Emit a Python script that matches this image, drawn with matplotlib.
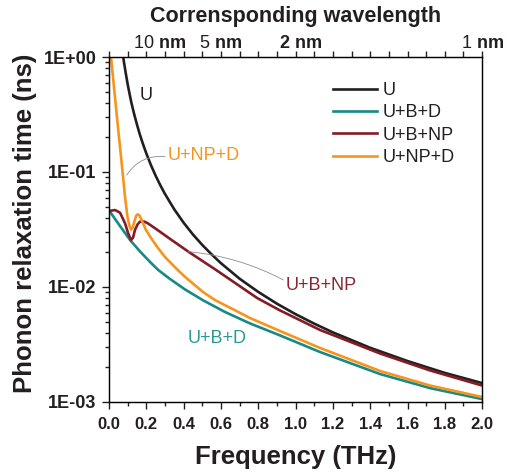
#!/usr/bin/env python3
"""
Phonon relaxation time vs frequency (log scale) with wavelength top axis
"""

import matplotlib
matplotlib.use('Agg')
import matplotlib.pyplot as plt
import matplotlib.transforms as mtransforms

# --- data ---
f_u = [0.07, 0.075, 0.08, 0.09, 0.10, 0.11, 0.12, 0.135, 0.15, 0.165, 0.18, 0.20,
       0.225, 0.25, 0.275, 0.30, 0.35, 0.40, 0.45, 0.50, 0.55, 0.60, 0.70, 0.80,
       0.90, 1.00, 1.10, 1.20, 1.40, 1.60, 1.80, 2.00]
tau_u = [1.19, 1.03, 0.905, 0.72, 0.58, 0.48, 0.40, 0.318, 0.258, 0.213, 0.179, 0.145,
         0.1145, 0.0928, 0.0767, 0.0644, 0.0473, 0.0362, 0.0286, 0.0232, 0.0192, 0.0161,
         0.0118, 0.00906, 0.00716, 0.0058, 0.0048, 0.00403, 0.00296, 0.00227, 0.00179, 0.00146]

f_ubd = [0.005, 0.059, 0.113, 0.166, 0.220, 0.264, 0.327, 0.408, 0.506, 0.622,
         0.756, 0.917, 1.131, 1.453, 1.721, 2.00]
tau_ubd = [0.0452, 0.0339, 0.0256, 0.0204, 0.0165, 0.01405, 0.01174, 0.00951, 0.00763, 0.00606,
           0.00482, 0.00379, 0.00272, 0.00175, 0.00132, 0.00106]

f_ubnp = [0.0, 0.032, 0.059, 0.086, 0.102, 0.118, 0.129, 0.139, 0.153, 0.166, 0.188,
          0.209, 0.247, 0.336, 0.425, 0.568, 0.794, 0.917, 1.131, 1.453, 1.721, 2.00]
tau_ubnp = [0.0458, 0.0467, 0.0443, 0.0358, 0.0295, 0.0256, 0.0269, 0.0313, 0.0350, 0.0370, 0.0371,
            0.0357, 0.0324, 0.0256, 0.0203, 0.01427, 0.00802, 0.00625, 0.00423, 0.00264, 0.00188, 0.00139]

f_unpd = [0.0054, 0.0107, 0.048, 0.070, 0.086, 0.099, 0.110, 0.118, 0.126, 0.136,
          0.145, 0.153, 0.164, 0.175, 0.198, 0.229, 0.263, 0.300, 0.363, 0.408, 0.504,
          0.568, 0.756, 0.917, 1.131, 1.453, 1.721, 2.00]
tau_unpd = [1.27, 1.0, 0.246, 0.1105, 0.0606, 0.0406, 0.0339, 0.0316, 0.0326, 0.0370,
            0.0414, 0.0429, 0.0418, 0.0382, 0.0313, 0.0261, 0.0218, 0.01823, 0.01434, 0.01222, 0.00904,
            0.0077, 0.00537, 0.00414, 0.00295, 0.00186, 0.00139, 0.001105]

series_names = ['U', 'U+B+D', 'U+B+NP', 'U+NP+D']
series_colors = ['#231f20', '#168a86', '#851c24', '#f7941d']

# top axis: corresponding wavelength labels
wl_pos = [0.27, 0.60, 1.03, 2.00]
wl_labels = ['10 $\\mathbf{nm}$', '5 $\\mathbf{nm}$', '$\\mathbf{2\\ nm}$', '1 $\\mathbf{nm}$']

yticks = [1e-3, 1e-2, 1e-1, 1e0]
ytick_labels = ['1E-03', '1E-02', '1E-01', '1E+00']

plt.rcParams['font.family'] = ['Liberation Sans', 'DejaVu Sans']
plt.rcParams['mathtext.fontset'] = 'custom'
plt.rcParams['mathtext.rm'] = 'Liberation Sans'
plt.rcParams['mathtext.bf'] = 'Liberation Sans:bold'
axis_color = '#231f20'

fig = plt.figure(figsize=(5.07, 4.75), dpi=100)
ax = fig.add_axes([0.215, 0.1537, 0.736, 0.7263])

curves = [(f_u, tau_u), (f_ubd, tau_ubd), (f_ubnp, tau_ubnp), (f_unpd, tau_unpd)]
for (fx, ty), name, col in zip(curves, series_names, series_colors):
    ax.plot(fx, ty, color=col, lw=1.9, label=name)

ax.set_yscale('log')
ax.set_xlim(0, 2.0)
ax.set_ylim(1e-3, 1e0)
ax.set_xticks([i * 0.2 for i in range(11)])
ax.set_xticklabels([f'{i * 0.2:.1f}' for i in range(11)])
ax.set_xticks([0.1 + i * 0.2 for i in range(10)], minor=True)
ax.set_yticks(yticks)
ax.set_yticklabels(ytick_labels)

for sp in ax.spines.values():
    sp.set_color(axis_color)
    sp.set_linewidth(1.0)

ax.tick_params(axis='x', which='major', direction='out', length=5, width=1.0,
               labelsize=12, pad=6, colors=axis_color)
ax.tick_params(axis='x', which='minor', direction='out', length=3, width=1.0, colors=axis_color)
ax.tick_params(axis='y', which='major', direction='out', length=5, width=1.0,
               labelsize=13, pad=4, colors=axis_color)
ax.tick_params(axis='y', which='minor', direction='out', length=3, width=1.0, colors=axis_color)
for lab in ax.get_xticklabels() + ax.get_yticklabels():
    lab.set_fontweight('bold')

ax.set_xlabel('Frequency (THz)', fontsize=18.5, fontweight='bold', labelpad=9, color=axis_color)
ax.set_ylabel('Phonon relaxation time (ns)', fontsize=18.5, fontweight='bold', labelpad=5,
              color=axis_color)
ax.yaxis.label.set_y(0.519)

# top axis (ticks only) + wavelength labels
ax_top = ax.twiny()
ax_top.set_xlim(0, 2.0)
ax_top.set_xticks([i * 0.1 for i in range(21)])
ax_top.set_xticklabels([''] * 21)
ax_top.tick_params(axis='x', which='major', direction='out', length=4, width=1.0, colors=axis_color)

trans = mtransforms.blended_transform_factory(ax.transData, ax.transAxes)
for pos, lab in zip(wl_pos, wl_labels):
    ax.text(pos, 1.0261, lab, transform=trans, ha='center', va='baseline', fontsize=13,
            color=axis_color, clip_on=False)
ax.text(0.5, 1.1014, 'Corrensponding wavelength', transform=ax.transAxes, ha='center',
        va='baseline', fontsize=15.5, fontweight='bold', color=axis_color)

# legend
leg = ax.legend(loc='upper left', bbox_to_anchor=(0.60, 0.928), frameon=False, fontsize=13,
                handlelength=2.45, handletextpad=0.3, labelspacing=0.3,
                borderpad=0, borderaxespad=0)
for t in leg.get_texts():
    t.set_color(axis_color)

# curve labels and leader lines
ax.text(0.198, 0.458, 'U', color=series_colors[0], fontsize=13, ha='center', va='center')
ax.text(0.316, 0.139, 'U+NP+D', color=series_colors[3], fontsize=13, ha='left', va='center')
ax.text(0.949, 0.0103, 'U+B+NP', color='#8b2530', fontsize=13, ha='left', va='center')
ax.text(0.424, 0.00353, 'U+B+D', color='#2a9a94', fontsize=13, ha='left', va='center')

ax.annotate('', xy=(0.095, 0.094), xytext=(0.30, 0.136),
            arrowprops=dict(arrowstyle='-', color='#8c8c8c', lw=0.6,
                            connectionstyle='arc3,rad=0.3', shrinkA=0, shrinkB=0))
ax.annotate('', xy=(0.424, 0.0203), xytext=(0.935, 0.0115),
            arrowprops=dict(arrowstyle='-', color='#8c8c8c', lw=0.6,
                            connectionstyle='arc3,rad=0.1', shrinkA=0, shrinkB=0))

fig.savefig('out.png', dpi=100)
